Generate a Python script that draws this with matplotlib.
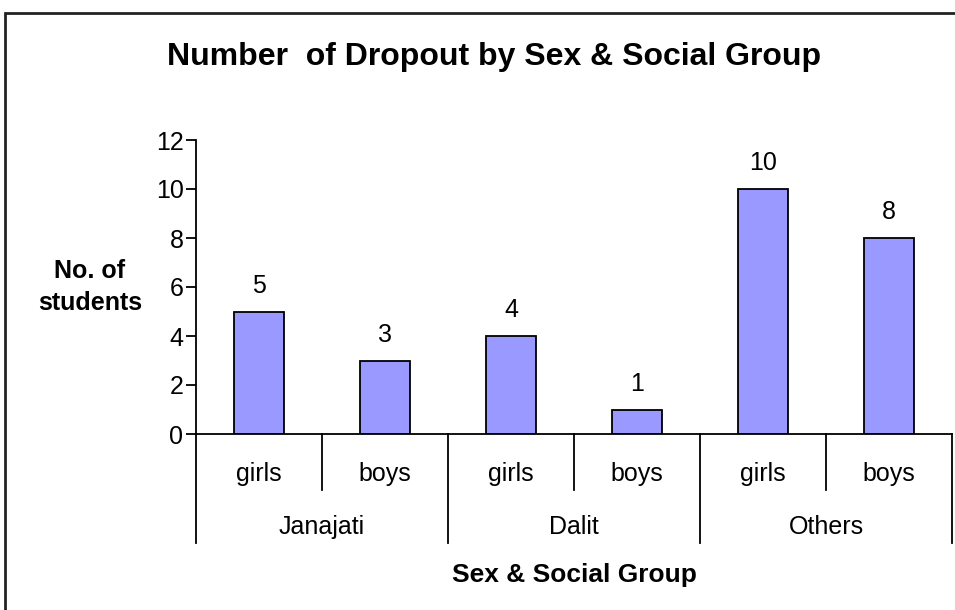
import matplotlib.pyplot as plt
import matplotlib.patches as patches
import matplotlib.transforms as transforms

groups = ['Janajati', 'Dalit', 'Others']
sexes = ['girls', 'boys']
dropouts = [5, 3, 4, 1, 10, 8]
yticks = [0, 2, 4, 6, 8, 10, 12]

plt.rcParams['font.family'] = ['Liberation Sans', 'DejaVu Sans']

fig = plt.figure(figsize=(9.55, 6.1), dpi=100)
ax = fig.add_axes([196/955, 1-434/610, 756/955, 294/610])

x = list(range(len(dropouts)))
bars = ax.bar(x, dropouts, width=0.4, color='#9999FF', edgecolor='black', linewidth=1.3)
for b, v in zip(bars, dropouts):
    ax.annotate(str(v), (b.get_x() + b.get_width()/2, v), xytext=(0, 10),
                textcoords='offset points', ha='center', va='bottom', fontsize=18)

ax.set_xlim(-0.5, len(dropouts) - 0.5)
ax.set_ylim(0, 12)
ax.set_yticks(yticks)
ax.tick_params(axis='y', labelsize=18, length=7, width=1.3, direction='out', pad=2)
ax.set_xticks([])
for s in ['top', 'right']:
    ax.spines[s].set_visible(False)
ax.spines['left'].set_linewidth(1.3)
ax.spines['bottom'].set_linewidth(1.3)

# two level category axis
trans = transforms.blended_transform_factory(ax.transData, ax.transAxes)
n = len(dropouts)
for i in range(n + 1):
    xs = i - 0.5
    depth = -0.371 if i % 2 == 0 else -0.19
    ax.plot([xs, xs], [0, depth], color='black', lw=1.3, transform=trans, clip_on=False)
for i in range(n):
    ax.text(i, -0.136, sexes[i % 2], transform=trans, ha='center', va='center', fontsize=18)
for j, g in enumerate(groups):
    ax.text(2*j + 0.5, -0.316, g, transform=trans, ha='center', va='center', fontsize=18)

fig.text(574/955, 1-575/610, 'Sex & Social Group', ha='center', va='center',
         fontsize=19, fontweight='bold')
fig.text(90/955, 1-287/610, 'No. of\nstudents', ha='center', va='center',
         fontsize=18, fontweight='bold', linespacing=1.4)
fig.text(494/955, 1-57/610, 'Number  of Dropout by Sex & Social Group', ha='center',
         va='center', fontsize=23, fontweight='bold')

# chart area border
frame = patches.Rectangle((5/955, -0.1), 1.2, 1 - 13/610 + 0.1, transform=fig.transFigure,
                          fill=False, edgecolor='#222222', linewidth=2, clip_on=False)
fig.patches.append(frame)

fig.savefig('out.png', dpi=100)
